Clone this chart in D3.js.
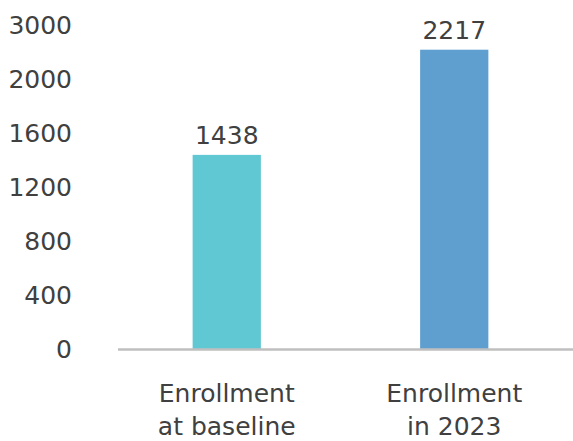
<!DOCTYPE html>
<html>
<head>
<meta charset="utf-8">
<script src="https://cdn.jsdelivr.net/npm/d3@7"></script>
<style>
  body { margin: 0; background: #fff; }
  svg text { font-family: "DejaVu Sans", sans-serif; fill: #404040; }
</style>
</head>
<body>
<div id="chart"></div>
<script>
// Data
const categories = [["Enrollment", "at baseline"], ["Enrollment", "in 2023"]];
const values = [1438, 2217];
const barColors = ["#60c8d2", "#5f9fcf"];
const tickValues = [0, 400, 800, 1200, 1600, 2000, 2400];
const tickLabels = ["0", "400", "800", "1200", "1600", "2000", "3000"];

const width = 573, height = 441;

const svg = d3.select("#chart")
  .append("svg")
  .attr("width", width)
  .attr("height", height);

// Scales
const x = d3.scaleBand()
  .domain(d3.range(categories.length))
  .range([113, 568]);

const y = d3.scaleLinear()
  .domain([0, 2400])
  .range([349, 25]);

const barW = x.bandwidth() * 0.3;

// Y tick labels (no axis line)
svg.append("g")
  .selectAll("text")
  .data(tickValues)
  .join("text")
  .attr("x", 72)
  .attr("y", d => y(d) + 9)
  .attr("text-anchor", "end")
  .style("font-size", "25px")
  .text((d, i) => tickLabels[i]);

// Bars
svg.append("g")
  .selectAll("rect")
  .data(values)
  .join("rect")
  .attr("x", (d, i) => x(i) + x.bandwidth() / 2 - barW / 2)
  .attr("width", barW)
  .attr("y", d => y(d))
  .attr("height", d => y(0) - y(d))
  .attr("fill", (d, i) => barColors[i]);

// Value labels
svg.append("g")
  .selectAll("text")
  .data(values)
  .join("text")
  .attr("x", (d, i) => x(i) + x.bandwidth() / 2)
  .attr("y", d => y(d) - 11)
  .attr("text-anchor", "middle")
  .style("font-size", "25px")
  .text(d => d);

// Baseline
svg.append("line")
  .attr("x1", 118)
  .attr("x2", width)
  .attr("y1", y(0) + 0.5)
  .attr("y2", y(0) + 0.5)
  .attr("stroke", "#bfbfbf")
  .attr("stroke-width", 2.5);

// Category labels, two lines each
const cat = svg.append("g")
  .selectAll("text")
  .data(categories)
  .join("text")
  .attr("x", (d, i) => x(i) + x.bandwidth() / 2)
  .attr("y", 402)
  .attr("text-anchor", "middle")
  .style("font-size", "25px");

cat.selectAll("tspan")
  .data(d => d)
  .join("tspan")
  .attr("x", function() { return this.parentNode.getAttribute("x"); })
  .attr("dy", (d, i) => i === 0 ? 0 : 33)
  .text(d => d);
</script>
</body>
</html>
